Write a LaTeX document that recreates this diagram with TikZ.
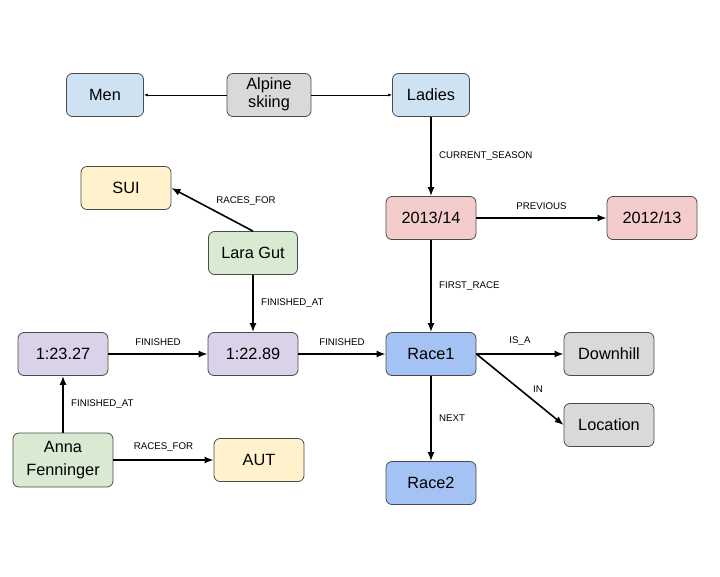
\documentclass[tikz,border=0pt]{standalone}
\usepackage{fontspec}
\setmainfont{Liberation Sans}
\usetikzlibrary{positioning, arrows.meta}
\definecolor{boxline}{HTML}{4A4A4A}
\definecolor{teamblue}{HTML}{CFE2F3}
\definecolor{sportgrey}{HTML}{D9D9D9}
\definecolor{nationyellow}{HTML}{FFF2CC}
\definecolor{skiergreen}{HTML}{D9EAD3}
\definecolor{seasonred}{HTML}{F4CCCC}
\definecolor{timepurple}{HTML}{D9D2E9}
\definecolor{raceblue}{HTML}{A4C2F4}
\tikzset{
  box/.style={on grid, draw=boxline, line width=0.8pt, rounded corners=6pt,
    minimum width=90pt, minimum height=43pt, inner sep=1pt,
    font=\fontsize{16.3}{18}\selectfont},
  rel/.style={font=\fontsize{9.7}{11}\selectfont},
  big/.style={-{Latex[length=9pt,width=7pt]}, line width=1.6pt},
  small/.style={-{Latex[length=4pt,width=3pt]}, line width=0.7pt}
}

\begin{document}
\begin{tikzpicture}[line join=bevel]
	     \useasboundingbox (0pt,0pt) rectangle (720pt,-576pt);
	     %
             \node[box, fill=raceblue](race1) at (431pt,-354pt) {Race1};
             \node[box, fill=raceblue, below=129pt of race1](race2){Race2};
             \node[box, fill=sportgrey, right=178pt of race1](downhill){Downhill};
             \node[box, fill=sportgrey, below=71pt of downhill](location){Location};
             \node[box, fill=seasonred, above=136pt of race1](s1314){2013/14};
             \node[box, fill=seasonred, right=221pt of s1314](s1213){2012/13};
             \node[box, fill=teamblue, minimum width=77pt, above=123pt of s1314](ladies){Ladies};
             \node[box, fill=sportgrey, minimum width=84pt, left=162pt of ladies](alpine){\begin{tabular}{@{}c@{}}Alpine\\ skiing\end{tabular}};
             \node[box, fill=teamblue, minimum width=77pt, left=164pt of alpine](men){Men};
             \node[box, fill=timepurple, left=178pt of race1](t2289){1:22.89};
             \node[box, fill=timepurple, left=190pt of t2289](t2327){1:23.27};
             \node[box, fill=skiergreen, minimum width=89pt, above=101pt of t2289](lara){Lara Gut};
             \node[box, fill=nationyellow, above left=65pt and 127pt of lara](sui){SUI};
             \node[box, fill=skiergreen, minimum width=100pt, minimum height=54pt, below=106pt of t2327](anna){\begin{tabular}{@{}c@{}}Anna\\[5pt] Fenninger\end{tabular}};
             \node[box, fill=nationyellow, right=196pt of anna](aut){AUT};
             %
             \path[small] (alpine) edge[] (men);
             \path[small] (alpine) edge[] (ladies);
             \path[big] (ladies) edge[] node[rel, right=4pt]{CURRENT\_SEASON} (s1314);
             \path[big] (s1314) edge[] node[rel, above=4pt]{PREVIOUS} (s1213);
             \path[big] (s1314) edge[] node[rel, right=4pt]{FIRST\_RACE} (race1);
             \path[big] (race1) edge[] node[rel, above=4pt]{IS\_A} (downhill);
             \path[big] (race1.east) edge[] node[rel, right=9pt]{IN} (location.west);
             \path[big] (race1) edge[] node[rel, right=4pt]{NEXT} (race2);
             \path[big] (t2289) edge[] node[rel, above=4pt]{FINISHED} (race1);
             \path[big] (t2327) edge[] node[rel, above=4pt]{FINISHED} (t2289);
             \path[big] (lara) edge[] node[rel, right=4pt]{FINISHED\_AT} (t2289);
             \path[big] (lara.north) edge[] node[rel, above right]{RACES\_FOR} (sui.east);
             \path[big] (anna) edge[] node[rel, right=4pt]{FINISHED\_AT} (t2327);
             \path[big] (anna) edge[] node[rel, above=4pt]{RACES\_FOR} (aut);
          \end{tikzpicture}
\end{document}
